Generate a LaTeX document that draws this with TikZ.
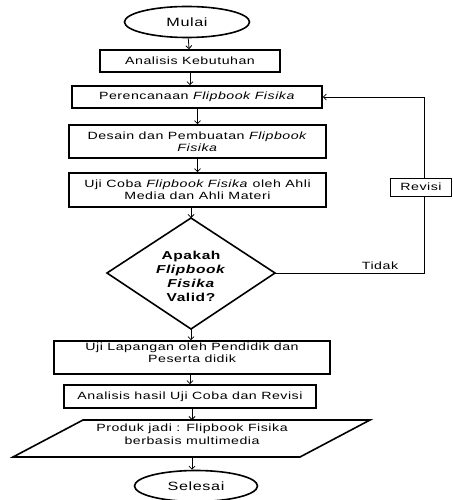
\documentclass[tikz,border=0pt]{standalone}
\usepackage{fontspec}
\setmainfont{Liberation Sans}
\newfontfamily\ff[FakeStretch=1.35,LetterSpace=5]{Liberation Sans}
\usetikzlibrary{arrows.meta,shapes.geometric}
\begin{document}
\begin{tikzpicture}[x=1pt,y=-1pt,
  box/.style={draw,line width=1.6pt,inner sep=0pt,align=center,font=\ff\fontsize{10.5}{12}\selectfont},
  term/.style={draw,ellipse,line width=1.6pt,inner sep=0pt,font=\ff\fontsize{12}{14}\selectfont},
  conn/.style={line width=0.8pt,-{Straight Barb[length=3pt,width=6pt]}},
  lbl/.style={font=\ff\fontsize{10.5}{12}\selectfont,inner sep=0pt}]
\useasboundingbox (0,0) rectangle (452,500);
\node[term,minimum width=125pt,minimum height=31pt] (mulai) at (187,22) {Mulai};
\node[box,minimum width=180pt,minimum height=22pt] (ak) at (190,61) {Analisis Kebutuhan};
\node[box,minimum width=250pt,minimum height=22pt] (per) at (197,97) {Perencanaan \textit{Flipbook Fisika}};
\node[box,minimum width=257pt,minimum height=33pt] (des) at (197.5,141.5) {Desain dan Pembuatan \textit{Flipbook}\\\textit{Fisika}};
\node[box,minimum width=257pt,minimum height=34pt] (uji) at (197.5,190) {Uji Coba \textit{Flipbook Fisika} oleh Ahli\\Media dan Ahli Materi};
\coordinate (dtop) at (191,218);
\coordinate (dright) at (275,273);
\coordinate (dbot) at (191,329);
\coordinate (dleft) at (107,273);
\draw[line width=1.6pt,line join=miter] (dtop) -- (dright) -- (dbot) -- (dleft) -- cycle;
\node[lbl,align=center,font=\ff\bfseries\fontsize{11.5}{14}\selectfont] (dtext) at (191,276) {Apakah\\\textit{Flipbook}\\\textit{Fisika}\\Valid?};
\node[box,minimum width=276pt,minimum height=33pt] (ul) at (192,357.5) {Uji Lapangan oleh Pendidik dan\\Peserta didik\\[-3pt]};
\node[box,minimum width=252pt,minimum height=23pt] (ah) at (190,396.5) {Analisis hasil Uji Coba dan Revisi};
\coordinate (p1) at (83,420);
\coordinate (p2) at (370,420);
\coordinate (p3) at (300,457);
\coordinate (p4) at (13,457);
\draw[line width=1.6pt,line join=miter] (p1) -- (p2) -- (p3) -- (p4) -- cycle;
\coordinate (ptop) at (192,420);
\coordinate (pbot) at (192,457);
\node[lbl,align=center,font=\ff\fontsize{10.5}{13}\selectfont] (prod) at (192,434) {Produk jadi : Flipbook Fisika\\berbasis multimedia};
\node[term,minimum width=123pt,minimum height=31pt] (sel) at (196,486) {Selesai};
\draw[conn] (mulai) -- (ak);
\draw[conn] (ak) -- (ak|-per.north);
\draw[conn] (per.south-|des) -- (des);
\draw[conn] (des) -- (uji);
\draw[conn] (uji.south-|dtop) -- (dtop);
\draw[conn] (dbot) -- (dbot|-ul.north);
\draw[conn] (ul.south-|ah) -- (ah);
\draw[conn] (ah.south-|ptop) -- (ptop);
\draw[conn] (pbot) -- (pbot|-sel.north);
\coordinate (c1) at (424,273);
\coordinate (c2) at (424,97);
\draw[conn] (dright) -- (c1) -- (c2) -- (per.east);
\node[draw,fill=white,line width=0.8pt,minimum width=61pt,minimum height=18pt,lbl] (rev) at (421,187) {Revisi};
\node[lbl,anchor=south] (tidak) at (380,270) {Tidak};
\end{tikzpicture}
\end{document}
